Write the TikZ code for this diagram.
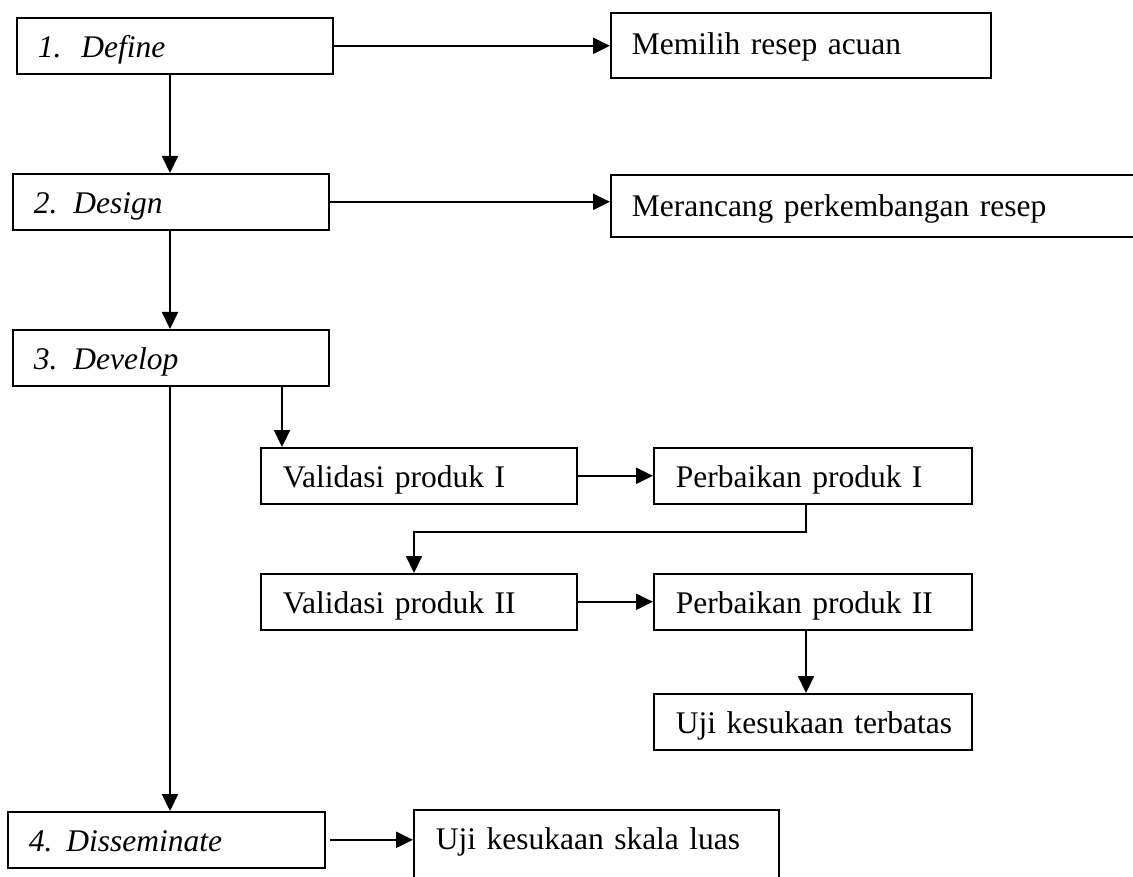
\documentclass[tikz,border=0pt]{standalone}
\usepackage{fontspec}
\setmainfont{Liberation Serif}
\usetikzlibrary{arrows.meta}
\begin{document}
\begin{tikzpicture}[x=1pt,y=-1pt,
  box/.style={draw, line width=1.6pt, rectangle, anchor=north west,
    inner xsep=21pt, inner ysep=0pt, minimum height=56pt,
    align=left, text height=30pt, text depth=6pt,
    font=\fontsize{31.5}{36}\selectfont},
  arr/.style={line width=2.2pt, -{Triangle[length=17pt,width=16pt]}}]
\useasboundingbox (0,0) rectangle (1133,877);
\clip (0,0) rectangle (1133,877);
\fill[white] (0,0) rectangle (1133,877);

% phase boxes
\node[box, text width=274pt] (define) at (16,17) {\itshape\mbox{1.\hspace{20pt}Define}};
\node[box, text width=274pt] (design) at (12,173) {\itshape\mbox{2.\hspace{16pt}Design}};
\node[box, text width=274pt] (develop) at (12,329) {\itshape\mbox{3.\hspace{16pt}Develop}};
\node[box, text width=275pt] (dissem) at (7,811) {\itshape\mbox{4.\hspace{14pt}Disseminate}};

% activity boxes
\node[box, text width=338pt, minimum height=65pt, text height=25pt] (memilih) at (610,12) {\mbox{Memilih resep acuan}};
\node[box, text width=498pt, minimum height=62pt, text height=28pt] (merancang) at (610,174) {\mbox{Merancang perkembangan resep}};
\node[box, inner xsep=22pt, text width=272pt] (val1) at (260,447) {\mbox{Validasi produk I}};
\node[box, inner xsep=22pt, text width=274pt] (per1) at (653,447) {\mbox{Perbaikan produk I}};
\node[box, inner xsep=22pt, text width=272pt] (val2) at (260,573) {\mbox{Validasi produk II}};
\node[box, inner xsep=22pt, text width=274pt] (per2) at (653,573) {\mbox{Perbaikan produk II}};
\node[box, inner xsep=22pt, text width=274pt] (uji1) at (653,693) {\mbox{Uji kesukaan terbatas}};
\node[box, inner xsep=22pt, text width=321pt, minimum height=91pt, text height=20pt, text depth=31pt] (ujiluas) at (413,809) {\mbox{Uji kesukaan skala luas}};

% helper coordinates
\coordinate (cA) at (170,0);
\coordinate (cB) at (282,0);
\coordinate (cC) at (806,532);
\coordinate (cD) at (414,0);

% connectors
\draw[arr] (define.east) -- (define.east -| memilih.west);
\draw[arr] (design.east) -- (design.east -| merancang.west);
\draw[arr] (cA |- define.south) -- (cA |- design.north);
\draw[arr] (cA |- design.south) -- (cA |- develop.north);
\draw[arr] (cA |- develop.south) -- (cA |- dissem.north);
\draw[arr] (cB |- develop.south) -- (cB |- val1.north);
\draw[arr] (val1.east) -- (per1.west);
\draw[arr] (cC |- per1.south) -- (cC) -- (cC -| cD) -- (cD |- val2.north);
\draw[arr] (val2.east) -- (per2.west);
\draw[arr] (cC |- per2.south) -- (cC |- uji1.north);
\draw[arr] ([xshift=4pt]dissem.east) -- (dissem.east -| ujiluas.west);
\end{tikzpicture}
\end{document}
